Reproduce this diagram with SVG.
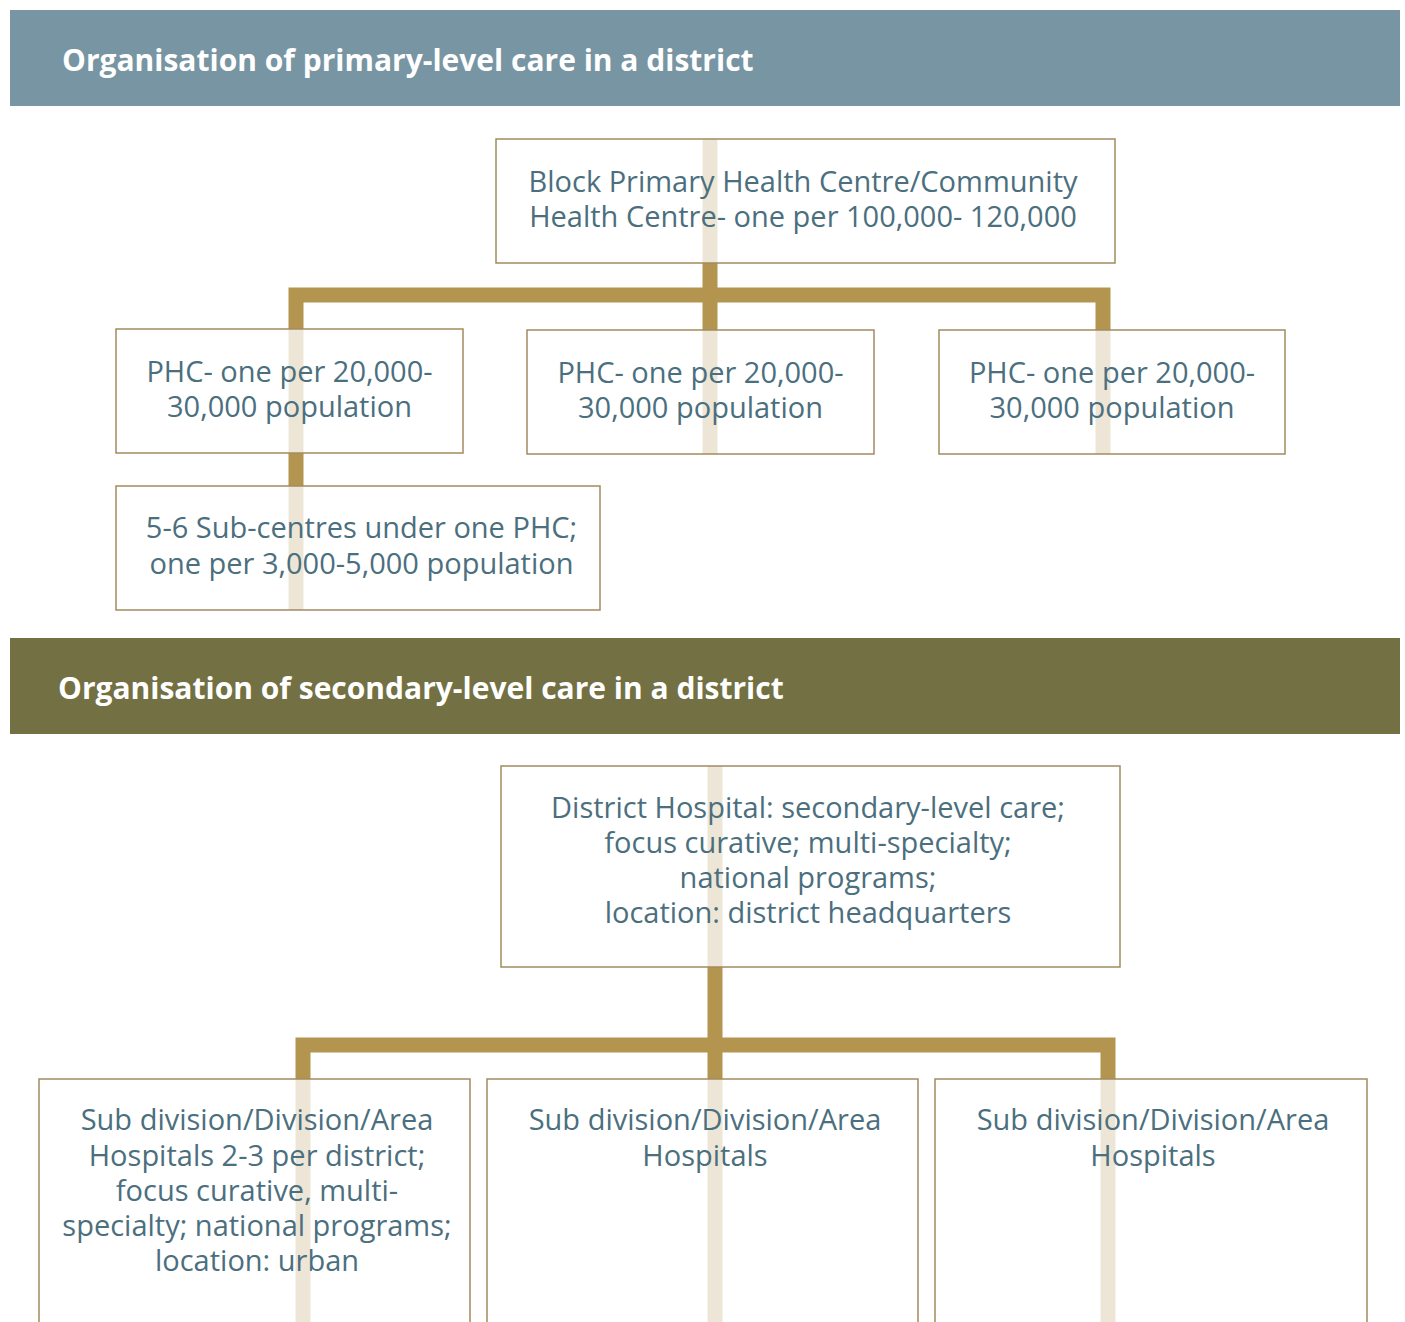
<svg xmlns="http://www.w3.org/2000/svg" width="1405" height="1322" viewBox="0 0 1405 1322">
<style>
.hdr-t{font-family:"Open Sans","Liberation Sans",sans-serif;font-weight:bold;font-size:30px;fill:#ffffff}
.box{fill:#ffffff;fill-opacity:0.77;stroke:#a38a5f;stroke-width:1.5}
.t{font-family:"Open Sans","Liberation Sans",sans-serif;font-size:29px;fill:#4b6f7e;text-anchor:middle}
.c{fill:none;stroke:#b39550;stroke-width:15;stroke-linecap:butt;stroke-linejoin:miter}
</style>
<rect width="1405" height="1322" fill="#ffffff"/>
<g id="header-primary">
<rect x="10" y="10" width="1390" height="96" fill="#7795a3"/>
<text class="hdr-t" x="62" y="71">Organisation of primary-level care in a district</text>
</g>
<g id="header-secondary">
<rect x="10" y="638" width="1390" height="96" fill="#737043"/>
<text class="hdr-t" x="58" y="699">Organisation of secondary-level care in a district</text>
</g>
<g id="connectors">
<path class="c" d="M710 139 V295"/>
<path class="c" d="M296 610 V295 H1103 V454"/>
<path class="c" d="M710 295 V454"/>
<path class="c" d="M715 766 V1045"/>
<path class="c" d="M303 1322 V1045 H1108 V1322"/>
<path class="c" d="M715 1045 V1322"/>
</g>
<g id="node-block-phc">
<rect class="box" x="496" y="139" width="619" height="124"/>
<text class="t" x="803" y="192">Block Primary Health Centre/Community</text>
<text class="t" x="803" y="227">Health Centre- one per 100,000- 120,000</text>
</g>
<g id="node-phc-1">
<rect class="box" x="116" y="329" width="347" height="124"/>
<text class="t" x="289.5" y="382">PHC- one per 20,000-</text>
<text class="t" x="289.5" y="417">30,000 population</text>
</g>
<g id="node-phc-2">
<rect class="box" x="527" y="330" width="347" height="124"/>
<text class="t" x="700.5" y="383">PHC- one per 20,000-</text>
<text class="t" x="700.5" y="418">30,000 population</text>
</g>
<g id="node-phc-3">
<rect class="box" x="939" y="330" width="346" height="124"/>
<text class="t" x="1112" y="383">PHC- one per 20,000-</text>
<text class="t" x="1112" y="418">30,000 population</text>
</g>
<g id="node-subcentres">
<rect class="box" x="116" y="486" width="484" height="124"/>
<text class="t" x="361.5" y="538">5-6 Sub-centres under one PHC;</text>
<text class="t" x="361.5" y="574">one per 3,000-5,000 population</text>
</g>
<g id="node-district-hospital">
<rect class="box" x="501" y="766" width="619" height="201"/>
<text class="t" x="808" y="818">District Hospital: secondary-level care;</text>
<text class="t" x="808" y="853">focus curative; multi-specialty;</text>
<text class="t" x="808" y="888">national programs;</text>
<text class="t" x="808" y="923">location: district headquarters</text>
</g>
<g id="node-subdiv-1">
<rect class="box" x="39" y="1079" width="431" height="260"/>
<text class="t" x="257" y="1130">Sub division/Division/Area</text>
<text class="t" x="257" y="1166">Hospitals 2-3 per district;</text>
<text class="t" x="257" y="1201">focus curative, multi-</text>
<text class="t" x="257" y="1236">specialty; national programs;</text>
<text class="t" x="257" y="1271">location: urban</text>
</g>
<g id="node-subdiv-2">
<rect class="box" x="487" y="1079" width="431" height="260"/>
<text class="t" x="705" y="1130">Sub division/Division/Area</text>
<text class="t" x="705" y="1166">Hospitals</text>
</g>
<g id="node-subdiv-3">
<rect class="box" x="935" y="1079" width="432" height="260"/>
<text class="t" x="1153" y="1130">Sub division/Division/Area</text>
<text class="t" x="1153" y="1166">Hospitals</text>
</g>
</svg>
